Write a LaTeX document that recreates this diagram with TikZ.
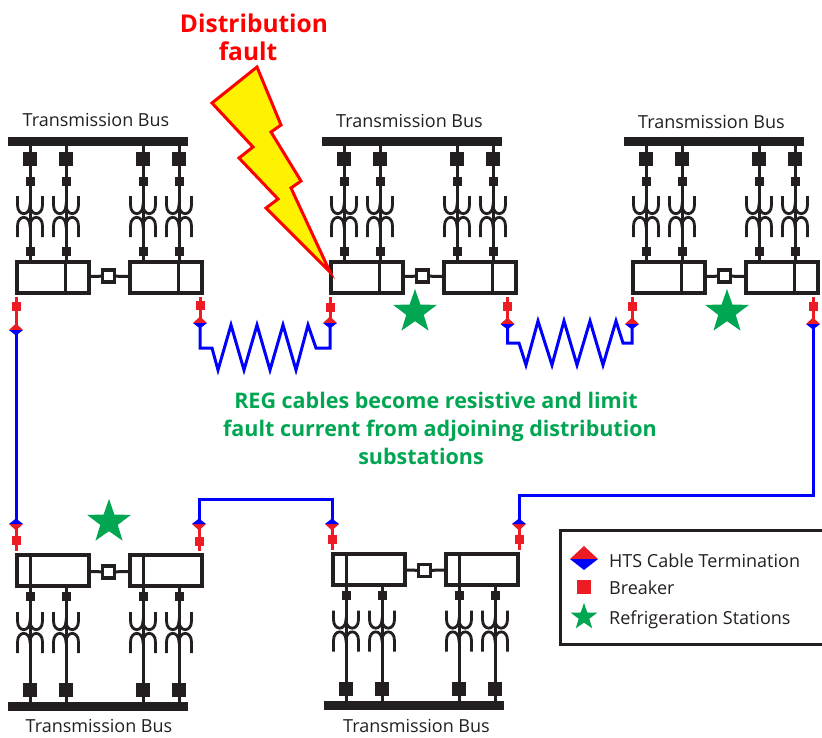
\documentclass[tikz,border=0pt]{standalone}
\usepackage{fontspec}
\setmainfont{Open Sans}
\usetikzlibrary{shapes.geometric}
\definecolor{ink}{HTML}{231F20}
\definecolor{brkred}{HTML}{ED1C24}
\definecolor{refgreen}{HTML}{00A651}
\tikzset{
  busbar/.style={fill=ink, inner sep=0pt, minimum width=180pt, minimum height=9pt},
  busbreaker/.style={fill=ink, inner sep=0pt, minimum size=14pt},
  tapbreaker/.style={fill=ink, inner sep=0pt, minimum size=9pt},
  linebreaker/.style={fill=brkred, inner sep=0pt, minimum size=9pt},
  busbox/.style={draw=ink, line width=4pt, fill=white, inner sep=0pt, minimum width=72pt, minimum height=31pt},
  tiebox/.style={draw=ink, line width=3.2pt, fill=white, inner sep=0pt, minimum size=12pt},
  wire/.style={draw=ink, line width=3pt},
  coil/.style={draw=ink, line width=2.8pt},
  redlead/.style={draw=brkred, line width=3pt},
  htscable/.style={draw=blue, line width=3pt},
  refstar/.style={star, star points=5, star point ratio=2.5, fill=refgreen, inner sep=0pt, minimum size=46pt},
  buslabel/.style={font=\fontsize{18}{20}\selectfont, text=ink, inner sep=0pt},
  faultlabel/.style={font=\fontsize{24.5}{28}\selectfont\bfseries, text=red, inner sep=0pt, anchor=base},
  notelabel/.style={font=\fontsize{21.5}{26}\selectfont\bfseries, text=refgreen, inner sep=0pt, anchor=base},
  pics/transformer/.style={code={
    \draw[coil] (-12.5,0) -- (-12.5,9) .. controls (-12.5,20.5) and (0,20.5) .. (0,9) .. controls (0,20.5) and (12.5,20.5) .. (12.5,9) -- (12.5,0);
    \draw[coil] (-12.5,41) -- (-12.5,30) .. controls (-12.5,18.5) and (0,18.5) .. (0,30) .. controls (0,18.5) and (12.5,18.5) .. (12.5,30) -- (12.5,41);
  }},
  pics/termination/.style={code={
    \fill[brkred] (-7,0) -- (0,-6.5) -- (7,0) -- cycle;
    \fill[blue] (-7,0) -- (0,5.5) -- (7,0) -- cycle;
  }},
  pics/topstation/.style={code={
    \node[busbar] (bus) at (98,141.5) {};
    \foreach \fx in {30,66,143,179} {
      \draw[wire] (\fx,141.5) -- (\fx,260);
      \node[busbreaker] at (\fx,159) {};
      \node[tapbreaker] at (\fx,181) {};
      \node[tapbreaker] at (\fx,251.5) {};
      \pic at (\fx,196) {transformer};
    }
    \node[busbox] (boxa) at (53,277.5) {};
    \node[busbox] (boxb) at (166,277.5) {};
    \draw[wire] (65,260) -- (65,295);
    \draw[wire] (178,260) -- (178,295);
    \node[tiebox] (tie) at (108.5,276) {};
    \draw[wire] (boxa) -- (tie) -- (boxb);
  }},
  pics/bottomstation/.style={code={
    \node[busbar] (bus) at (98,706.5) {};
    \foreach \fx in {30,66,143,179} {
      \draw[wire] (\fx,588) -- (\fx,706.5);
      \node[busbreaker] at (\fx,690) {};
      \node[tapbreaker] at (\fx,596.5) {};
      \pic at (\fx,612) {transformer};
    }
    \node[busbox] (boxa) at (53,570.5) {};
    \node[busbox] (boxb) at (166,570.5) {};
    \draw[wire] (30,553) -- (30,588);
    \draw[wire] (143,553) -- (143,588);
    \node[tiebox] (tie) at (108.5,572) {};
    \draw[wire] (boxa) -- (tie) -- (boxb);
  }}
}

\begin{document}
\begin{tikzpicture}[x=1pt, y=-1pt]
  \useasboundingbox (0,0) rectangle (822,737);

  % Substations
  \pic (sa-) at (0,0) {topstation};
  \pic (sb-) at (314,0) {topstation};
  \pic (sc-) at (616,0) {topstation};
  \pic (sd-) at (0,0) {bottomstation};
  \pic (se-) at (316,-1.5) {bottomstation};

  % Bus labels
  \node[buslabel] (la) at (96,120) {Transmission Bus};
  \node[buslabel] (lb) at (409.5,121) {Transmission Bus};
  \node[buslabel] (lc) at (711.5,122) {Transmission Bus};
  \node[buslabel] (ld) at (99,726) {Transmission Bus};
  \node[buslabel] (le) at (416.5,726) {Transmission Bus};

  % Cable ends
  \coordinate (ta) at (16,330);
  \coordinate (tb) at (200,323);
  \coordinate (tc) at (330,323);
  \coordinate (td) at (507.5,324);
  \coordinate (te) at (632,324);
  \coordinate (tf) at (813,324);
  \coordinate (tg) at (16,524);
  \coordinate (th) at (199,524);
  \coordinate (ti) at (332,524);
  \coordinate (tj) at (519,524);

  % Red leads and breakers
  \draw[redlead] (16,297) -- (ta);
  \draw[redlead] (200,297) -- (tb);
  \draw[redlead] (330,297) -- (tc);
  \draw[redlead] (507.5,297) -- (td);
  \draw[redlead] (632,297) -- (te);
  \draw[redlead] (813,297) -- (tf);
  \draw[redlead] (tg) -- (16,551);
  \draw[redlead] (th) -- (199,551);
  \draw[redlead] (ti) -- (332,549.5);
  \draw[redlead] (tj) -- (519,549.5);
  \node[linebreaker] (ba) at (16,306.5) {};
  \node[linebreaker] (bb) at (200,305.5) {};
  \node[linebreaker] (bc) at (330,307) {};
  \node[linebreaker] (bd) at (507.5,306) {};
  \node[linebreaker] (be) at (632,306) {};
  \node[linebreaker] (bf) at (813,306) {};
  \node[linebreaker] (bg) at (16,540) {};
  \node[linebreaker] (bh) at (199,541.5) {};
  \node[linebreaker] (bi) at (332,539.5) {};
  \node[linebreaker] (bj) at (519,539.5) {};

  % Blue cables
  \draw[htscable] (ta) -- (tg);
  \draw[htscable] (th) -- (199,499) -- (332,499) -- (ti);
  \draw[htscable] (tj) -- (519,495) -- (813,495) -- (tf);
  \draw[htscable] (tb) -- (200,348) -- (212,348) -- (218,370) -- (231,325) -- (244,370) -- (257,325) -- (270,370) -- (283,325) -- (296,370) -- (308,325) -- (316,348) -- (330,348) -- (tc);
  \draw[htscable] (td) -- (507.5,343) -- (519,343) -- (526,365) -- (538,321) -- (552,365) -- (564,321) -- (577,365) -- (590,321) -- (603,365) -- (616,321) -- (623,343) -- (632,343) -- (te);

  % Terminations
  \pic at (ta) {termination};
  \pic at (tb) {termination};
  \pic at (tc) {termination};
  \pic at (td) {termination};
  \pic at (te) {termination};
  \pic at (tf) {termination};
  \pic[yscale=-1] at (tg) {termination};
  \pic[yscale=-1] at (th) {termination};
  \pic[yscale=-1] at (ti) {termination};
  \pic[yscale=-1] at (tj) {termination};

  % Stars
  \node[refstar] (sta) at (415,312) {};
  \node[refstar] (stb) at (727,312) {};
  \node[refstar] (stc) at (109,522) {};

  % Fault
  \draw[line width=3pt, draw=red, fill=yellow] (257,67) -- (281,125) -- (271,132) -- (301,181) -- (291,188) -- (330,272) -- (266,208) -- (278,199) -- (239,158) -- (253,147) -- (212,103) -- cycle;
  \node[faultlabel] (faulta) at (254,32) {Distribution};
  \node[faultlabel] (faultb) at (248,60) {fault};
  \node[notelabel] (notea) at (436,408) {REG cables become resistive and limit};
  \node[notelabel] (noteb) at (440,436) {fault current from adjoining distribution};
  \node[notelabel] (notec) at (421,464) {substations};

  % Legend
  \draw[line width=3pt, draw=ink] (826,530) -- (560,530) -- (560,644) -- (826,644);
  \pic[scale=2] at (584,559) {termination};
  \node[linebreaker, minimum size=14pt] (lbrk) at (584,587) {};
  \node[refstar, minimum size=28pt] (lstar) at (584,617) {};
  \node[buslabel, anchor=base west] (lta) at (609,567) {HTS Cable Termination};
  \node[buslabel, anchor=base west] (ltb) at (609,594) {Breaker};
  \node[buslabel, anchor=base west] (ltc) at (609,624) {Refrigeration Stations};
\end{tikzpicture}
\end{document}
